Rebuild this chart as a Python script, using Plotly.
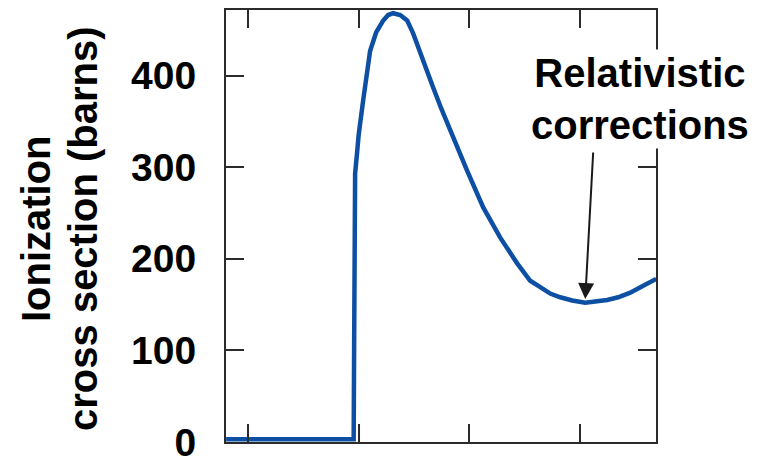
import plotly.graph_objects as go

# Data (x in arbitrary units, tick every 1 unit)
energy = [0.801, 1.955, 1.959, 1.964, 1.968, 1.986, 2.000, 2.041, 2.068, 2.104, 2.158, 2.222,
          2.267, 2.312, 2.376, 2.439, 2.493, 2.557, 2.674, 2.747, 2.828, 2.982, 3.127,
          3.281, 3.434, 3.552, 3.643, 3.733, 3.824, 3.932, 4.050, 4.149, 4.249, 4.348,
          4.457, 4.566, 4.665, 4.692]
cross_section = [3, 3, 100, 220, 293, 316, 335, 373, 400, 427, 447, 460,
                 466, 468, 466, 460, 446, 424, 387, 364, 340, 296, 256,
                 223, 195, 176, 169, 162, 158, 154.5, 152, 153, 155, 158,
                 163, 170, 176, 178]

y_ticks = [0, 100, 200, 300, 400]
x_ticks = [1, 2, 3, 4]
y_title_lines = ["Ionization", "cross section (barns)"]
note_text = "Relativistic<br>corrections"
note_point = (4.05, 156)

FONT = "Liberation Sans, Arial, Helvetica, sans-serif"
AXIS_COLOR = "#2b2b2b"

fig = go.Figure()
fig.add_trace(go.Scatter(
    x=energy, y=cross_section, mode="lines",
    line=dict(color="#0d4fa3", width=4.5, shape="linear"),
    showlegend=False, hoverinfo="skip"))

axis_common = dict(
    showgrid=False, zeroline=False, showline=True, linecolor=AXIS_COLOR, linewidth=2,
    mirror="allticks", ticks="inside", ticklen=18, tickwidth=2, tickcolor=AXIS_COLOR,
    automargin=False,
)
fig.update_xaxes(range=[0.8, 4.69], tickvals=x_ticks, showticklabels=False, **axis_common)
fig.update_yaxes(range=[0, 471.5], tickvals=y_ticks, ticktext=[str(v) for v in y_ticks],
                 tickfont=dict(family=FONT, size=39, color="black", weight="bold"),
                 ticklabelstandoff=20, **axis_common)

# y-axis title as two rotated lines
for xpos, line in zip([-0.442, -0.333], y_title_lines):
    fig.add_annotation(xref="paper", yref="paper", x=xpos, y=0.495, text=line,
                       textangle=-90, showarrow=False, xanchor="center", yanchor="middle",
                       font=dict(family=FONT, size=40, color="black", weight="bold"))

# annotation text with white box
fig.add_annotation(xref="paper", yref="paper", x=0.963, y=0.794, text=note_text,
                   showarrow=False, xanchor="center", yanchor="middle", bgcolor="white",
                   font=dict(family=FONT, size=40, color="black", weight="bold"))
# arrow
fig.add_annotation(x=note_point[0], y=note_point[1], xref="x", yref="y", text="",
                   showarrow=True, ax=8, ay=-148, axref="pixel", ayref="pixel",
                   arrowhead=2, arrowsize=1.6, arrowwidth=2, arrowcolor="#1a1a1a", standoff=0)

# page body adds an 8px offset, so margins are compensated for it
fig.update_layout(
    width=771, height=456,
    margin=dict(l=218, r=123, t=2, b=22, autoexpand=False),
    paper_bgcolor="white", plot_bgcolor="white",
)
fig.write_html("out.html")
